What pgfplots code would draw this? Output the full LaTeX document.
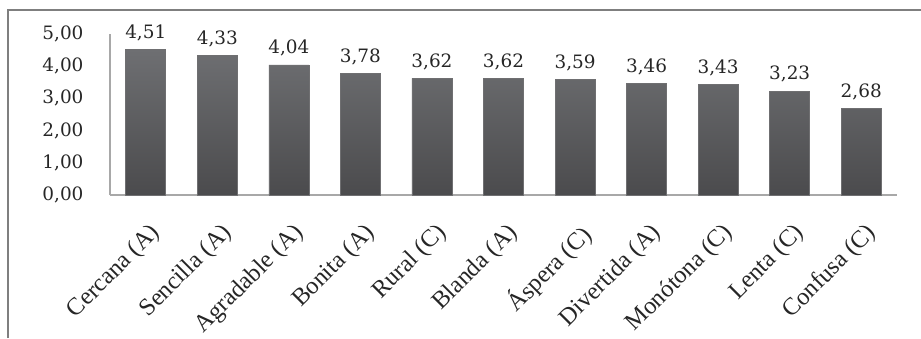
\documentclass[border=0pt]{standalone}
\usepackage{pgfplots}
\pgfplotsset{compat=1.18}
\usepackage{fontspec}
\setmainfont{DejaVu Serif}
\newfontfamily\catfont{Liberation Serif}
\definecolor{barTop}{HTML}{6E6F72}
\definecolor{barBot}{HTML}{4B4B4D}
\definecolor{axisGray}{HTML}{A8A8A8}
\definecolor{frameGray}{HTML}{7F7F7F}
\definecolor{txt}{HTML}{262626}
\begin{document}
\begin{tikzpicture}[x=1bp,y=1bp]
\begin{axis}[
  at={(0,0)}, anchor=south west,
  scale only axis, width=787bp, height=161bp,
  xmin=-0.5, xmax=10.5, ymin=0, ymax=5,
  enlargelimits=false, clip=false,
  axis x line*=bottom, axis y line*=left,
  axis line style={draw=axisGray, line width=1.4bp, -},
  major tick length=0,
  ytick={0,1,2,3,4,5},
  xtick={0,...,10},
  xticklabels={Cercana (A),Sencilla (A),Agradable (A),Bonita (A),Rural (C),Blanda (A),Áspera (C),Divertida (A),Monótona (C),Lenta (C),Confusa (C)},
  /pgf/number format/assume math mode=true,
  /pgf/number format/.cd, fixed, fixed zerofill, precision=2, use comma, /pgfplots/.cd,
  yticklabel style={font=\fontsize{18.5}{20}\selectfont, text=txt, xshift=-23bp},
  xticklabel style={font=\catfont\fontsize{24.5}{26}\selectfont, text=txt,
    xshift=3bp, yshift=-25bp, rotate=45, anchor=north east, inner sep=1bp},
  ybar, bar width=40bp, bar shift=0pt,
  nodes near coords,
  every node near coord/.append style={font=\fontsize{18.5}{20}\selectfont, text=txt, yshift=5bp},
]
\addplot[draw=barBot!80!white, line width=0.6bp, top color=barTop, bottom color=barBot]
  coordinates {(0,4.51) (1,4.33) (2,4.04) (3,3.78) (4,3.62) (5,3.62) (6,3.59) (7,3.46) (8,3.43) (9,3.23) (10,2.68)};
\end{axis}
\draw[frameGray, line width=1.5bp] (-102,-143) -- (-102,185) -- (811,185);
\pgfresetboundingbox
\useasboundingbox (-110,-143) rectangle (811,195);
\end{tikzpicture}
\end{document}
